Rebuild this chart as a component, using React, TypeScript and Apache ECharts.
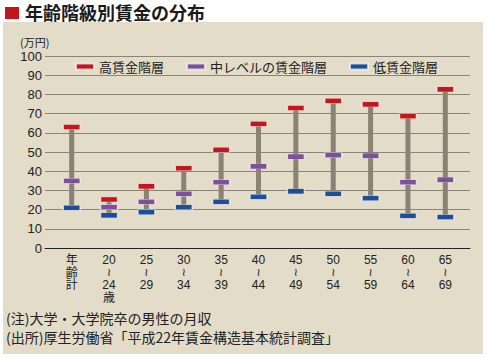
import React, { useEffect, useRef } from "react";
import * as echarts from "echarts";

const categories = [
  "年\n齢\n計",
  "20\n≀\n24\n歳",
  "25\n≀\n29",
  "30\n≀\n34",
  "35\n≀\n39",
  "40\n≀\n44",
  "45\n≀\n49",
  "50\n≀\n54",
  "55\n≀\n59",
  "60\n≀\n64",
  "65\n≀\n69",
];
const highWage = [63, 25.3, 32.1, 41.5, 51.2, 64.7, 72.9, 76.7, 74.8, 68.6, 82.6];
const midWage = [35, 21.2, 24.1, 28.3, 34.2, 42.5, 47.6, 48.3, 48.1, 34.2, 35.6];
const lowWage = [21, 17, 18.6, 21.2, 24.1, 26.7, 29.5, 28.3, 25.9, 16.8, 16.1];
const seriesNames = ["高賃金階層", "中レベルの賃金階層", "低賃金階層"];

const FONT = "'Liberation Sans', 'Noto Sans CJK JP', sans-serif";
const JP = "'Noto Sans CJK JP', sans-serif";

export default function App() {
  const ref = useRef<HTMLDivElement>(null);
  useEffect(() => {
    document.body.style.margin = "0";
    const chart = echarts.init(ref.current!, null, { renderer: "svg" });
    const rangeBase = lowWage;
    const rangeLen = highWage.map((h, i) => +(h - lowWage[i]).toFixed(2));
    const marker = (name: string, data: number[], color: string) => ({
      name,
      type: "scatter",
      xAxisIndex: 1,
      yAxisIndex: 1,
      symbol: "rect",
      symbolSize: [17, 5],
      data,
      z: 5,
      itemStyle: { color, opacity: 1, borderColor: "rgba(255,250,245,0.7)", borderWidth: 0.8 },
    });
    chart.setOption({
      animation: false,
      textStyle: { fontFamily: FONT },
      legend: {
        data: seriesNames,
        left: 75,
        top: 60,
        padding: 0,
        icon: "rect",
        itemWidth: 18,
        itemHeight: 6,
        itemGap: 22,
        textStyle: { fontSize: 13, color: "#222", fontFamily: JP },
      },
      grid: [
        { left: 45, right: 20, top: 56, height: 192 },
        { left: 53, right: 26, top: 56, height: 192 },
      ],
      xAxis: [
        {
          type: "value",
          gridIndex: 0,
          min: 0,
          max: 1,
          axisLine: { show: true, onZero: false, lineStyle: { color: "#222", width: 1 } },
          axisTick: { show: false },
          axisLabel: { show: false },
          splitLine: { show: false },
        },
        {
          type: "category",
          gridIndex: 1,
          data: categories,
          axisLine: { show: false },
          axisTick: { show: false },
          axisLabel: {
            interval: 0,
            margin: 6,
            fontSize: 12,
            lineHeight: 12.5,
            color: "#222",
            fontFamily: FONT,
            verticalAlign: "top",
            formatter: (v: string) =>
              v
                .split("\n")
                .map((l) => (l === "≀" ? "{w|≀}" : "{n|" + l + "}"))
                .join("\n"),
            rich: {
              n: { fontSize: 12, lineHeight: 12.5, color: "#222", fontFamily: FONT },
              w: { fontSize: 11, lineHeight: 12.5, color: "#222", fontFamily: "'DejaVu Sans', sans-serif" },
            },
          },
        },
      ],
      yAxis: [
        {
          type: "value",
          gridIndex: 0,
          min: 0,
          max: 100,
          interval: 10,
          axisLine: { show: false },
          axisTick: { show: false },
          axisLabel: { fontSize: 13, color: "#222", margin: 3 },
          splitLine: { lineStyle: { color: "#8a8476", width: 1 } },
        },
        {
          type: "value",
          gridIndex: 1,
          min: 0,
          max: 100,
          interval: 10,
          show: false,
          splitLine: { show: false },
        },
      ],
      series: [
        {
          type: "bar",
          xAxisIndex: 1,
          yAxisIndex: 1,
          stack: "range",
          data: rangeBase,
          barWidth: 5,
          itemStyle: { color: "transparent" },
          silent: true,
        },
        {
          type: "bar",
          xAxisIndex: 1,
          yAxisIndex: 1,
          stack: "range",
          data: rangeLen,
          barWidth: 5,
          itemStyle: { color: "#8a8275" },
          z: 3,
        },
        marker(seriesNames[0], highWage, "#c3171f"),
        marker(seriesNames[1], midWage, "#7d4f9c"),
        marker(seriesNames[2], lowWage, "#1b4f9b"),
      ],
      graphic: [
        { type: "rect", shape: { x: 5, y: 7, width: 14, height: 12 }, style: { fill: "#c3171f" } },
        {
          type: "text",
          x: 25,
          y: 12,
          style: {
            text: "年齢階級別賃金の分布",
            font: "bold 18px 'Noto Sans CJK JP', sans-serif",
            fill: "#1a1a1a",
            textVerticalAlign: "middle",
          },
        },
        {
          type: "text",
          x: 20,
          y: 41.5,
          style: { text: "(万円)", font: "11px 'Noto Sans CJK JP', sans-serif", fill: "#222", textVerticalAlign: "middle" },
        },
        {
          type: "text",
          x: 6,
          y: 318,
          style: {
            text: "(注)大学・大学院卒の男性の月収",
            font: "14px 'Noto Sans CJK JP', sans-serif",
            fill: "#222",
            textVerticalAlign: "middle",
          },
        },
        {
          type: "text",
          x: 6,
          y: 337,
          style: {
            text: "(出所)厚生労働省「平成22年賃金構造基本統計調査」",
            font: "14px 'Noto Sans CJK JP', sans-serif",
            fill: "#222",
            textVerticalAlign: "middle",
          },
        },
      ],
    });
    return () => chart.dispose();
  }, []);
  return (
    <div style={{ position: "relative", width: 490, height: 357, background: "#fff" }}>
      <div
        style={{ position: "absolute", left: 3, top: 22, width: 480, height: 332, background: "#e3dcc8" }}
      />
      <div ref={ref} style={{ position: "absolute", left: 0, top: 0, width: 490, height: 357 }} />
    </div>
  );
}
